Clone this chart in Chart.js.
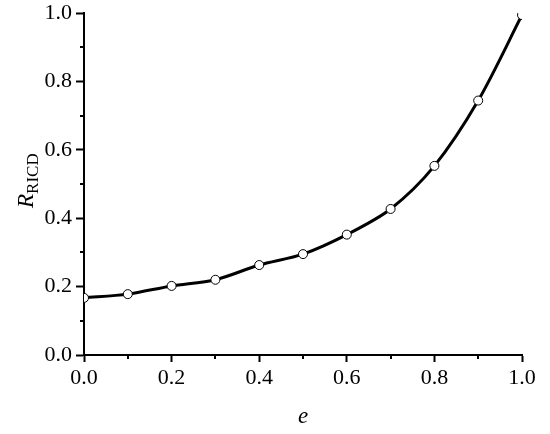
<!DOCTYPE html>
<html>
<head>
<meta charset="utf-8">
<script src="https://cdn.jsdelivr.net/npm/chart.js@4"></script>
<style>
  html, body { margin: 0; padding: 0; background: #fff; }
  #wrap { width: 550px; height: 434px; }
</style>
</head>
<body>
<div id="wrap"><canvas id="chart" width="550" height="434"></canvas></div>
<script>
// data
const eValues = [0.0, 0.1, 0.2, 0.3, 0.4, 0.5, 0.6, 0.7, 0.8, 0.9, 1.0];
const rRicd   = [0.167, 0.178, 0.202, 0.220, 0.263, 0.295, 0.352, 0.427, 0.553, 0.744, 0.994];
const xTicks  = [0.0, 0.2, 0.4, 0.6, 0.8, 1.0];
const yTicks  = [0.0, 0.2, 0.4, 0.6, 0.8, 1.0];
const minorTicks = [0.1, 0.3, 0.5, 0.7, 0.9];

const FONT = "'Liberation Serif', 'Times New Roman', serif";

// minor ticks + axis titles (R with subscript, italic e)
const extras = {
  id: "extras",
  afterDraw(chart) {
    const { ctx, scales: { x, y }, chartArea } = chart;
    ctx.save();
    ctx.strokeStyle = "#000";
    ctx.lineWidth = 2;
    ctx.beginPath();
    minorTicks.forEach(v => {
      const px = Math.round(x.getPixelForValue(v));
      ctx.moveTo(px, chartArea.bottom);
      ctx.lineTo(px, chartArea.bottom + 4);
      const py = Math.round(y.getPixelForValue(v));
      ctx.moveTo(chartArea.left, py);
      ctx.lineTo(chartArea.left - 4, py);
    });
    ctx.stroke();

    ctx.fillStyle = "#000";
    ctx.textBaseline = "alphabetic";
    ctx.textAlign = "center";
    ctx.font = "italic 23px " + FONT;
    ctx.fillText("e", (chartArea.left + chartArea.right) / 2, 423);

    ctx.translate(33, 208);
    ctx.rotate(-Math.PI / 2);
    ctx.textAlign = "left";
    ctx.font = "italic 23px " + FONT;
    ctx.fillText("R", 0, 0);
    const w = ctx.measureText("R").width;
    ctx.font = "17px " + FONT;
    ctx.fillText("RICD", w, 5);
    ctx.restore();
  }
};

new Chart(document.getElementById("chart"), {
  type: "line",
  data: {
    datasets: [{
      data: eValues.map((e, i) => ({ x: e, y: rRicd[i] })),
      borderColor: "#000",
      borderWidth: 3,
      tension: 0.3,
      pointRadius: 4.5,
      pointBackgroundColor: "#fff",
      pointBorderColor: "#000",
      pointBorderWidth: 1,
      clip: 0
    }]
  },
  options: {
    responsive: false,
    animation: false,
    layout: { padding: { left: 0, top: 13, right: 28, bottom: 0 } },
    plugins: { legend: { display: false }, tooltip: { enabled: false } },
    scales: {
      x: {
        type: "linear",
        min: 0, max: 1,
        afterFit: s => { s.height = 79; s.paddingLeft = 0; s.paddingRight = 0; },
        afterBuildTicks: s => { s.ticks = xTicks.map(v => ({ value: v })); },
        border: { display: true, color: "#000", width: 2 },
        grid: { drawOnChartArea: false, drawTicks: true, tickLength: 7, tickWidth: 2, tickColor: "#000" },
        ticks: { color: "#000", font: { family: FONT, size: 22 }, padding: 3, maxRotation: 0,
                 callback: v => v.toFixed(1) }
      },
      y: {
        type: "linear",
        min: 0, max: 1,
        afterFit: s => { s.width = 84; s.paddingTop = 0; s.paddingBottom = 0; },
        afterBuildTicks: s => { s.ticks = yTicks.map(v => ({ value: v })); },
        border: { display: true, color: "#000", width: 2 },
        grid: { drawOnChartArea: false, drawTicks: true, tickLength: 8, tickWidth: 2, tickColor: "#000" },
        ticks: { color: "#000", font: { family: FONT, size: 22 }, padding: 4,
                 callback: v => v.toFixed(1) }
      }
    }
  },
  plugins: [extras]
});
</script>
</body>
</html>
